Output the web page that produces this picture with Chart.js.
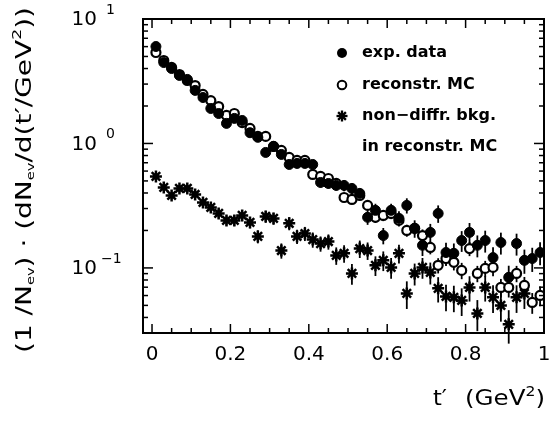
<!DOCTYPE html>
<html><head><meta charset="utf-8">
<script src="https://cdn.jsdelivr.net/npm/chart.js@4.4.0/dist/chart.umd.min.js"></script>
<style>html,body{margin:0;padding:0;background:#fff;}#wrap{width:553px;height:426px;}</style>
</head><body><div id="wrap"><canvas id="c" width="553" height="426"></canvas></div>
<script>
// ---- data ----
const tBins = [0.01,0.03,0.05,0.07,0.09,0.11,0.13,0.15,0.17,0.19,
               0.21,0.23,0.25,0.27,0.29,0.31,0.33,0.35,0.37,0.39,
               0.41,0.43,0.45,0.47,0.49,0.51,0.53,0.55,0.57,0.59,
               0.61,0.63,0.65,0.67,0.69,0.71,0.73,0.75,0.77,0.79,
               0.81,0.83,0.85,0.87,0.89,0.91,0.93,0.95,0.97,0.99];
const expData = [6.01,4.47,4.00,3.52,3.27,2.67,2.34,1.91,1.74,1.45,
                 1.59,1.53,1.22,1.12,0.847,0.946,0.816,0.678,0.691,0.691,
                 0.678,0.486,0.477,0.460,0.460,0.435,0.397,0.255,0.290,0.182,
                 0.290,0.250,0.318,0.208,0.152,0.193,0.274,0.133,0.131,0.166,
                 0.193,0.152,0.166,0.121,0.160,0.084,0.157,0.115,0.119,0.133];
const expErr = [0.03,0.03,0.03,0.03,0.03,0.03,0.03,0.04,0.04,0.04,
                0.04,0.04,0.05,0.05,0.06,0.06,0.06,0.07,0.07,0.07,
                0.08,0.09,0.09,0.09,0.10,0.10,0.10,0.13,0.13,0.15,
                0.13,0.14,0.14,0.16,0.18,0.17,0.16,0.20,0.20,0.19,
                0.19,0.20,0.20,0.21,0.20,0.24,0.20,0.22,0.22,0.21];
const mcData = [5.38,4.64,4.08,3.58,3.21,2.92,2.48,2.21,1.98,1.68,
                1.74,1.47,1.32,1.14,1.14,0.946,0.879,0.772,0.730,0.730,
                0.564,0.543,0.523,0.477,0.368,0.355,0.382,0.318,0.255,0.264,
                0.274,0.241,0.200,0.208,0.182,0.146,0.105,0.119,0.111,0.0955,
                0.143,0.0903,0.0991,0.101,0.0697,0.0697,0.0903,0.0723,0.0528,0.0601];
const mcErr = [0.02,0.02,0.02,0.02,0.02,0.03,0.03,0.03,0.03,0.03,
               0.03,0.04,0.04,0.04,0.04,0.05,0.05,0.05,0.06,0.06,
               0.06,0.07,0.07,0.07,0.08,0.08,0.08,0.09,0.10,0.10,
               0.10,0.10,0.11,0.11,0.12,0.12,0.14,0.13,0.14,0.15,
               0.13,0.15,0.15,0.15,0.17,0.17,0.15,0.17,0.19,0.18];
const bkgData = [0.543,0.443,0.382,0.435,0.435,0.389,0.336,0.306,0.274,0.241,
                 0.241,0.264,0.232,0.179,0.259,0.250,0.138,0.228,0.179,0.189,
                 0.169,0.157,0.163,0.126,0.131,0.0903,0.143,0.138,0.105,0.115,
                 0.101,0.131,0.0624,0.0903,0.101,0.092,0.0685,0.059,0.058,0.0548,
                 0.0697,0.0431,0.0697,0.058,0.050,0.0352,0.058,0.0624,null,null];
const bkgErr = [0.06,0.06,0.07,0.07,0.07,0.08,0.08,0.08,0.09,0.09,
                0.10,0.10,0.10,0.12,0.11,0.11,0.14,0.12,0.13,0.13,
                0.14,0.14,0.14,0.16,0.16,0.19,0.16,0.16,0.18,0.18,
                0.19,0.17,0.25,0.20,0.19,0.20,0.23,0.24,0.24,0.25,
                0.23,0.28,0.23,0.25,0.26,0.30,0.25,0.25,null,null];
const legendLabels = ['exp. data','reconstr. MC','non\u2212diffr. bkg.','in reconstr. MC'];
const xTickValues = [0,0.2,0.4,0.6,0.8,1];
const xTickLabels = ['0','0.2','0.4','0.6','0.8','1'];
const yTickValues = [10,1,0.1];
const yTickExp = ['1','0','\u22121'];

const pts = (vals) => tBins.map((t,i)=>({x:t,y:vals[i]}));
const errs = [expErr, mcErr, bkgErr];

const errorBars = {
  id:'errorBars',
  beforeDatasetsDraw(chart){
    const {ctx, scales:{x,y}} = chart;
    ctx.save(); ctx.strokeStyle='#000'; ctx.lineWidth=1.8;
    chart.data.datasets.forEach((ds,di)=>{
      ds.data.forEach((p,i)=>{
        const r = errs[di][i];
        if(p.y==null||r==null) return;
        const px=x.getPixelForValue(p.x);
        ctx.beginPath();
        ctx.moveTo(px,y.getPixelForValue(p.y*(1+r)));
        ctx.lineTo(px,y.getPixelForValue(p.y*(1-r)));
        ctx.stroke();
      });
    });
    ctx.restore();
  }
};

function drawRich(ctx, pieces, x, y, target, align){
  let w=0;
  pieces.forEach(p=>{ctx.font=p[1]+'px "DejaVu Sans"'; w+=ctx.measureText(p[0]).width;});
  const s = target? target/w : 1;
  ctx.save(); ctx.translate(x,y); ctx.scale(s,1);
  let cx = align==='center'? -w/2 : 0;
  pieces.forEach(p=>{ctx.font=p[1]+'px "DejaVu Sans"'; ctx.fillText(p[0],cx,p[2]); cx+=ctx.measureText(p[0]).width;});
  ctx.restore();
}

const frame = {
  id:'frame',
  afterDraw(chart){
    const {ctx, chartArea:a, scales:{x,y}} = chart;
    ctx.save();
    ctx.strokeStyle='#000'; ctx.fillStyle='#000';
    ctx.lineWidth=2;
    ctx.strokeRect(a.left,a.top,a.right-a.left,a.bottom-a.top);
    ctx.lineWidth=1.5;
    const tick=(x1,y1,x2,y2)=>{ctx.beginPath();ctx.moveTo(x1,y1);ctx.lineTo(x2,y2);ctx.stroke();};
    for(let k=0;k<=20;k++){
      const v=k*0.05; const px=x.getPixelForValue(v);
      const L = (k%4===0)?9:5;
      tick(px,a.bottom,px,a.bottom-L);
      tick(px,a.top,px,a.top+L);
    }
    for(let e=-2;e<=1;e++){
      for(let m=1;m<=9;m++){
        const v=m*Math.pow(10,e);
        if(v<y.min-1e-9||v>y.max+1e-9) continue;
        const py=y.getPixelForValue(v);
        const L=(m===1)?10:5;
        tick(a.left,py,a.left+L,py);
        tick(a.right,py,a.right-L,py);
      }
    }
    ctx.textBaseline='middle'; ctx.textAlign='center';
    ctx.font='20px "DejaVu Sans"';
    xTickValues.forEach((v,i)=>{ctx.fillText(xTickLabels[i], x.getPixelForValue(v), 355);});
    yTickValues.forEach((v,i)=>{
      const py=y.getPixelForValue(v);
      ctx.textAlign='right'; ctx.font='20px "DejaVu Sans"';
      ctx.fillText('10',97,py+1);
      ctx.textAlign='left'; ctx.font='14px "DejaVu Sans"';
      ctx.fillText(yTickExp[i], yTickExp[i].length>1?101:106, py-9);
    });
    ctx.textAlign='left'; ctx.textBaseline='middle';
    drawRich(ctx,[['t\u2032',22,0]],433,399,14);
    drawRich(ctx,[['(GeV',22,0],['2',14,-7],[')',22,0]],465,399,80);
    ctx.save();
    ctx.translate(26,180); ctx.rotate(-Math.PI/2);
    drawRich(ctx,[['(1 /N',21,0],['ev',11,5],[') \u00b7 (dN',21,0],['ev',11,5],['/d(t\u2032/GeV',21,0],['2',13,-8],['))',21,0]],0,0,346,'center');
    ctx.restore();
    const lx=342, lys=[53,85,116,147];
    ctx.lineWidth=2;
    ctx.beginPath();ctx.arc(lx,lys[0],5,0,Math.PI*2);ctx.fill();
    ctx.beginPath();ctx.arc(lx,lys[1],4.3,0,Math.PI*2);ctx.stroke();
    ctx.lineWidth=2.3;
    for(let k=0;k<4;k++){const ang=k*Math.PI/4;tick(lx-5.5*Math.cos(ang),lys[2]-5.5*Math.sin(ang),lx+5.5*Math.cos(ang),lys[2]+5.5*Math.sin(ang));}
    ctx.font='bold 16px "DejaVu Sans"'; ctx.textAlign='left';
    legendLabels.forEach((s,i)=>ctx.fillText(s,362,lys[i]));
    ctx.restore();
  }
};

new Chart(document.getElementById('c'),{
  type:'scatter',
  data:{datasets:[
    {label:legendLabels[0], data:pts(expData), pointStyle:'circle', pointRadius:5, backgroundColor:'#000', borderColor:'#000', borderWidth:1},
    {label:legendLabels[1], data:pts(mcData), pointStyle:'circle', pointRadius:4.5, backgroundColor:'#fff', borderColor:'#000', borderWidth:2.2},
    {label:legendLabels[2], data:pts(bkgData), pointStyle:'star', pointRadius:6, backgroundColor:'#000', borderColor:'#000', borderWidth:2.5}
  ]},
  options:{
    responsive:false, animation:false, devicePixelRatio:1,
    layout:{padding:{left:143,right:9,top:19,bottom:93}},
    plugins:{legend:{display:false}, tooltip:{enabled:false}},
    scales:{
      x:{type:'linear', min:-0.023, max:1.0, display:false},
      y:{type:'logarithmic', min:0.03, max:10, display:false}
    }
  },
  plugins:[errorBars, frame]
});
</script></body></html>
